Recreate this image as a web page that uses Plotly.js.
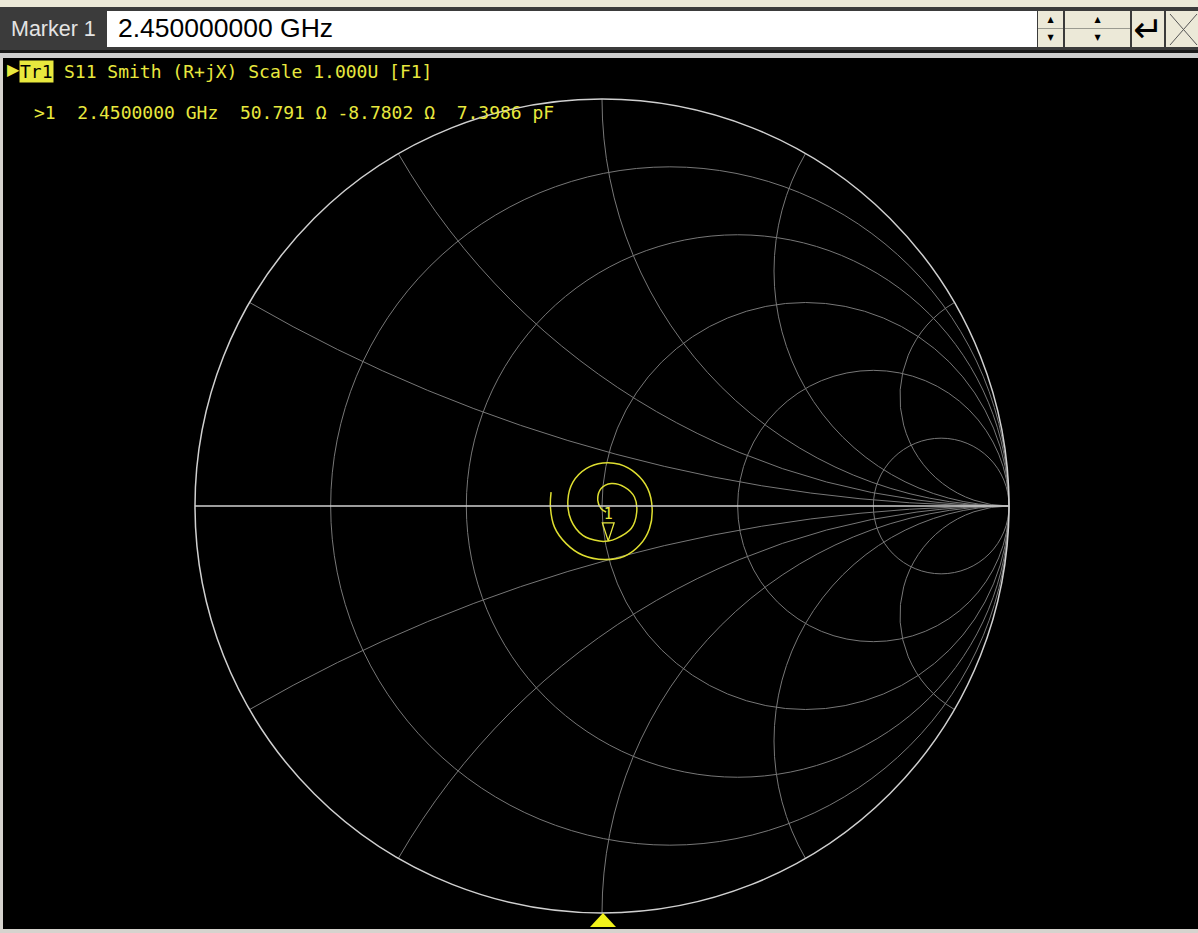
<!DOCTYPE html>
<html>
<head>
<meta charset="utf-8">
<script src="https://cdn.plot.ly/plotly-3.0.1.min.js"></script>
<style>
html,body{margin:0;padding:0;width:1198px;height:933px;overflow:hidden;background:#d6d3ce;font-family:'Liberation Sans',Arial,sans-serif;}
.abs{position:absolute;}
#topstrip{left:0;top:0;width:1198px;height:7px;background:#ece9d8;}
#bar{left:0;top:7px;width:1198px;height:43px;background:#3b3b3b;}
#barline{left:0;top:50px;width:1198px;height:3px;background:#1a1a1a;}
#lightline{left:0;top:53px;width:1198px;height:5px;background:#cfcfcf;}
#lbl{left:11px;top:17px;font-size:21.5px;color:#e4e4e4;white-space:nowrap;}
#inp{left:107px;top:11px;width:930px;height:36px;background:#ffffff;}
#inptxt{left:118px;top:13px;font-size:26.5px;color:#000;white-space:nowrap;}
.btn{background:#ece9d8;}
.half{position:absolute;left:0;width:100%;height:17px;border-bottom:1px solid #9a9a90;font-size:8px;text-align:center;line-height:17px;color:#000;font-family:'DejaVu Sans',sans-serif;}
#enter{font-family:'DejaVu Sans',sans-serif;font-size:36px;text-align:center;line-height:38px;color:#000;}
#chart{left:3px;top:58px;width:1195px;height:871px;background:#000;}
</style>
</head>
<body>
<div id="topstrip" class="abs"></div>
<div id="bar" class="abs"></div>
<div id="barline" class="abs"></div>
<div id="lightline" class="abs"></div>
<div id="lbl" class="abs">Marker 1</div>
<div id="inp" class="abs"></div>
<div id="inptxt" class="abs"></div>
<div id="spin1" class="abs btn" style="left:1038px;top:11px;width:25px;height:36px;">
  <div class="half" style="top:0;">▲</div><div class="half" style="top:18px;border-bottom:none;">▼</div>
</div>
<div id="spin2" class="abs btn" style="left:1065px;top:11px;width:65px;height:36px;">
  <div class="half" style="top:0;">▲</div><div class="half" style="top:18px;border-bottom:none;">▼</div>
</div>
<div id="enter" class="abs btn" style="left:1132px;top:11px;width:32px;height:36px;">↵</div>
<div id="xbtn" class="abs btn" style="left:1166px;top:11px;width:32px;height:36px;">
  <svg width="32" height="36"><line x1="4" y1="3" x2="31" y2="34" stroke="#555" stroke-width="1"/><line x1="31" y1="3" x2="4" y2="34" stroke="#555" stroke-width="1"/></svg>
</div>
<div id="chart" class="abs"></div>
<script>
// ---- data (normalised impedance z = Z / Z0) ----
const resistance = [0.776, 0.775, 0.787, 0.825, 0.885, 0.978, 1.081, 1.178, 1.255, 1.281, 1.248, 1.167, 1.066, 0.982, 0.910, 0.861, 0.845, 0.857, 0.901, 0.973, 1.016, 1.058, 1.147, 1.186, 1.172, 1.112, 1.040, 0.992, 0.979, 0.996, 1.020];
const reactance  = [0.054, -0.004, -0.083, -0.155, -0.218, -0.262, -0.272, -0.232, -0.142, -0.017, 0.108, 0.188, 0.221, 0.210, 0.169, 0.102, 0.024, -0.061, -0.131, -0.169, -0.176, -0.171, -0.128, -0.035, 0.052, 0.104, 0.115, 0.085, 0.027, -0.013, -0.030];
const resistanceGrid = [0.2, 0.5, 1, 2, 5];
const reactanceGrid  = [-3.732, -1.732, -1, -0.577, -0.268, 0.268, 0.577, 1, 1.732, 3.732];
const z0 = 50;
const markerNumber = 1;
const markerFreqGHz = 2.45;
const markerR = 50.791;
const markerX = -8.7802;
const markerCpF = 7.3986;
const traceName = 'Tr1';
const traceInfo = 'S11 Smith (R+jX) Scale 1.000U [F1]';

document.getElementById('inptxt').textContent = markerFreqGHz.toFixed(9) + ' GHz';

// layout helpers: page pixel -> paper fraction (chart div at 3,58; margins l192 t41; plot 814x814)
const L = 192, T = 41, W = 814, H = 814, OX = 3, OY = 58;
const px = p => (p - OX - L) / W;
const py = p => 1 - (p - OY - T) / H;

const yellow = '#e8e83e';
const mono = 'DejaVu Sans Mono, monospace';

const markerLine = '>' + markerNumber + '  ' + markerFreqGHz.toFixed(7) + ' GHz  ' +
  markerR.toFixed(3) + ' Ω ' + markerX.toFixed(4) + ' Ω  ' + markerCpF.toFixed(4) + ' pF';

const traces = [
  {
    type: 'scattersmith', real: resistance, imag: reactance, mode: 'lines',
    line: {color: '#dede30', width: 1.5, shape: 'spline', smoothing: 1},
    hoverinfo: 'skip', showlegend: false
  },
  {
    // marker triangle, its tip on the marker point
    type: 'scattersmith', real: [markerR / z0], imag: [markerX / z0], mode: 'markers',
    marker: {symbol: 'arrow-open', size: 19, color: yellow, angle: 180,
             line: {color: yellow, width: 1.3}},
    hoverinfo: 'skip', showlegend: false
  },
  {
    // marker number, above the triangle
    type: 'scattersmith', real: [markerR / z0], imag: [markerX / z0], mode: 'markers+text',
    text: [String(markerNumber)], textposition: 'top center',
    marker: {size: 28, color: 'rgba(0,0,0,0)', line: {width: 0}},
    textfont: {family: mono, size: 15, color: yellow},
    hoverinfo: 'skip', showlegend: false
  }
];

const layout = {
  width: 1195, height: 871,
  margin: {l: L, r: 1195 - L - W, t: T, b: 871 - T - H, pad: 0},
  paper_bgcolor: '#000', plot_bgcolor: '#000',
  showlegend: false,
  smith: {
    domain: {x: [0, 1], y: [0, 1]},
    bgcolor: '#000',
    realaxis: {
      tickvals: resistanceGrid, showticklabels: false, ticks: '',
      showgrid: true, gridcolor: '#777777', gridwidth: 1,
      showline: true, linecolor: '#d0d0d0', linewidth: 1.5
    },
    imaginaryaxis: {
      tickvals: reactanceGrid, showticklabels: false, ticks: '',
      showgrid: true, gridcolor: '#777777', gridwidth: 1,
      showline: true, linecolor: '#d0d0d0', linewidth: 1.5
    }
  },
  annotations: [
    {xref: 'paper', yref: 'paper', x: px(5), y: py(70), xanchor: 'left', yanchor: 'middle',
     text: '▶', showarrow: false, font: {family: 'DejaVu Sans', size: 16, color: yellow}},
    {xref: 'paper', yref: 'paper', x: px(19), y: py(71), xanchor: 'left', yanchor: 'middle',
     text: traceName, showarrow: false, bgcolor: yellow, borderpad: 0,
     font: {family: mono, size: 18, color: '#000'}},
    {xref: 'paper', yref: 'paper', x: px(62), y: py(71), xanchor: 'left', yanchor: 'middle',
     text: traceInfo, showarrow: false, font: {family: mono, size: 18, color: yellow}},
    {xref: 'paper', yref: 'paper', x: px(32), y: py(112), xanchor: 'left', yanchor: 'middle',
     text: markerLine.replace(/ /g, '&nbsp;'), showarrow: false, font: {family: mono, size: 18, color: yellow}}
  ],
  shapes: [
    {type: 'path', xref: 'paper', yref: 'paper', layer: 'above',
     path: 'M ' + px(603) + ' ' + py(913) + ' L ' + px(616) + ' ' + py(927) + ' L ' + px(590) + ' ' + py(927) + ' Z',
     fillcolor: '#f2f21a', line: {width: 0}}
  ]
};

Plotly.newPlot('chart', traces, layout, {staticPlot: true, displayModeBar: false});
</script>
</body>
</html>
